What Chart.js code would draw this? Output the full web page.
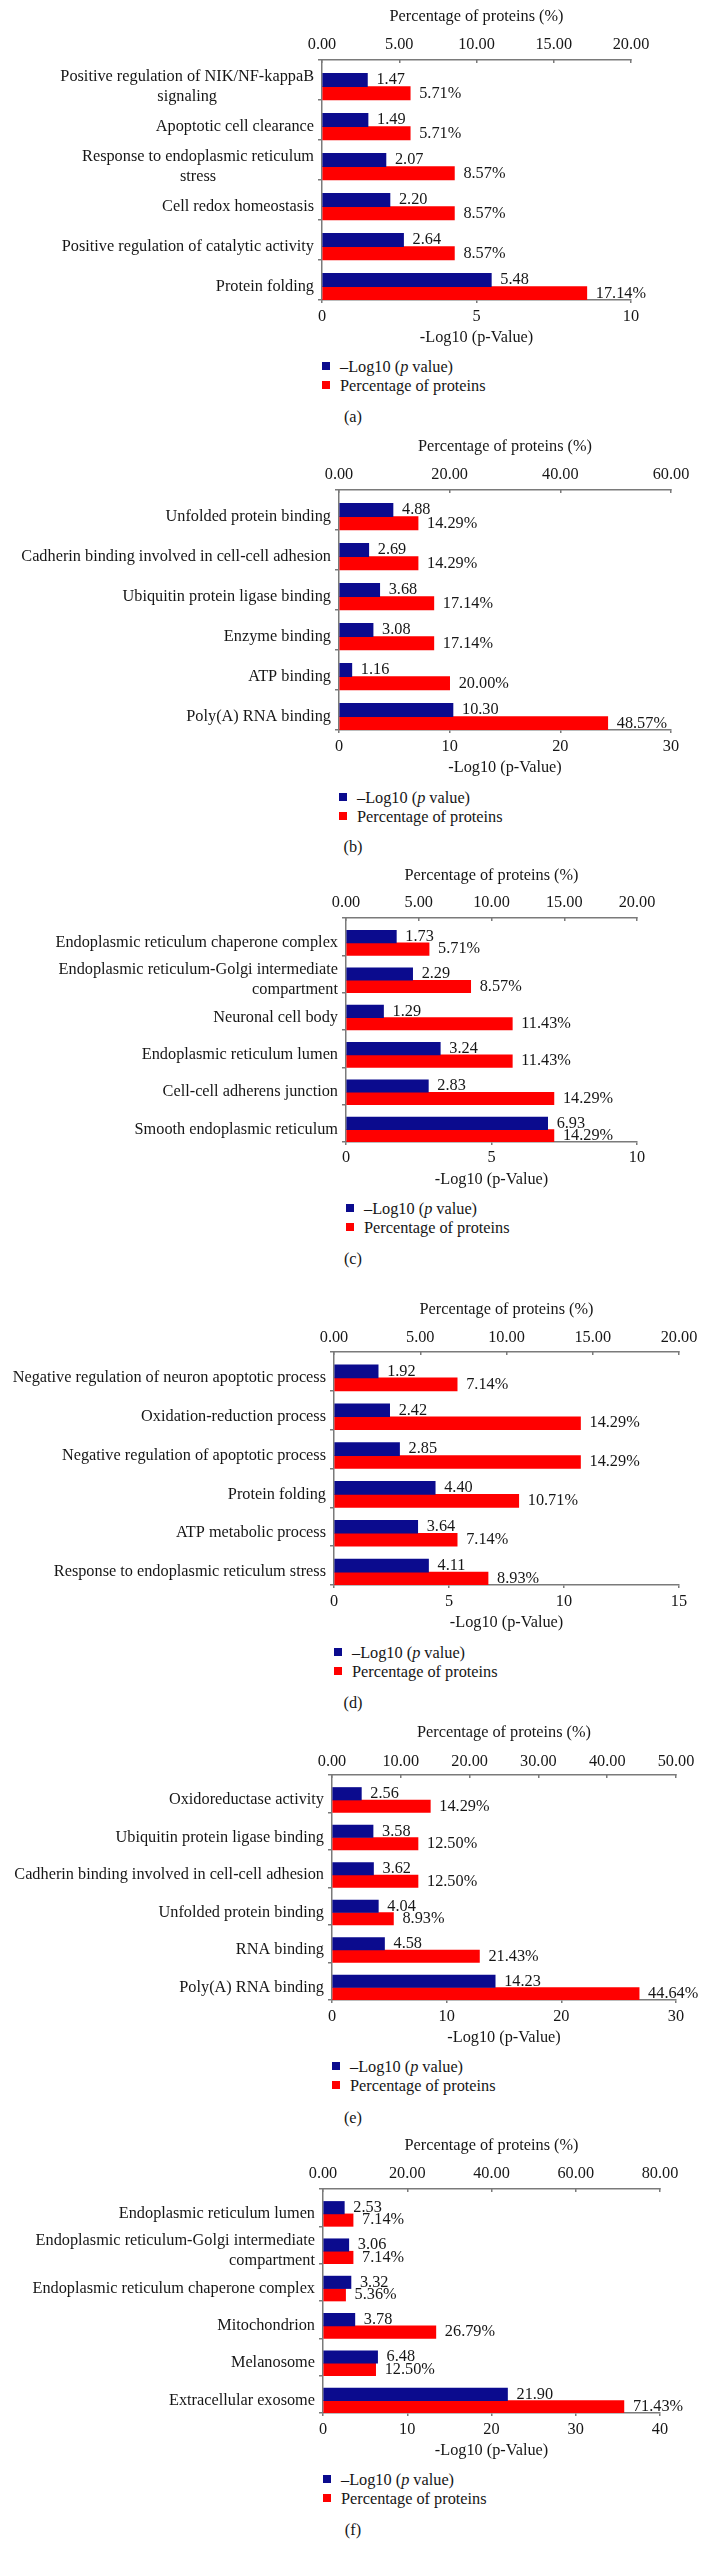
<!DOCTYPE html>
<html>
<head>
<meta charset="utf-8">
<title>GO enrichment panels</title>
<script src="https://cdn.jsdelivr.net/npm/chart.js@4.4.1/dist/chart.umd.min.js"></script>
<style>
    html, body { margin: 0; padding: 0; background: #fff; }
    body {
        position: relative;
        width: 706px;
        height: 2563px;
        overflow: hidden;
        font-family: "Liberation Serif", "Times New Roman", serif;
        color: #161616;
    }
    canvas { position: absolute; left: 0; }
    .legend { position: absolute; font-size: 16.3px; line-height: 19px; }
    .legend div { position: relative; padding-left: 18px; white-space: nowrap; }
    .legend .sw { position: absolute; left: 0; top: 5.5px; width: 8px; height: 8px; }
    .caption { position: absolute; left: 0; width: 706px; text-align: center; font-size: 16.3px; line-height: 20px; }
</style>
</head>
<body>
<script>
// ── Data ──
const seriesNames = ["\u2013Log10 (p value)", "Percentage of proteins"];

// (a)
const termsA = [
    ["Positive regulation of NIK/NF-kappaB", "signaling"],
    "Apoptotic cell clearance",
    ["Response to endoplasmic reticulum", "stress"],
    "Cell redox homeostasis",
    "Positive regulation of catalytic activity",
    "Protein folding"
];
const logPA = [1.47, 1.49, 2.07, 2.20, 2.64, 5.48];
const pctA = [5.71, 5.71, 8.57, 8.57, 8.57, 17.14];
const logTicksA = [0, 5, 10];
const pctTicksA = [0, 5, 10, 15, 20];

// (b)
const termsB = [
    "Unfolded protein binding",
    "Cadherin binding involved in cell-cell adhesion",
    "Ubiquitin protein ligase binding",
    "Enzyme binding",
    "ATP binding",
    "Poly(A) RNA binding"
];
const logPB = [4.88, 2.69, 3.68, 3.08, 1.16, 10.30];
const pctB = [14.29, 14.29, 17.14, 17.14, 20.00, 48.57];
const logTicksB = [0, 10, 20, 30];
const pctTicksB = [0, 20, 40, 60];

// (c)
const termsC = [
    "Endoplasmic reticulum chaperone complex",
    ["Endoplasmic reticulum-Golgi intermediate", "compartment"],
    "Neuronal cell body",
    "Endoplasmic reticulum lumen",
    "Cell-cell adherens junction",
    "Smooth endoplasmic reticulum"
];
const logPC = [1.73, 2.29, 1.29, 3.24, 2.83, 6.93];
const pctC = [5.71, 8.57, 11.43, 11.43, 14.29, 14.29];
const logTicksC = [0, 5, 10];
const pctTicksC = [0, 5, 10, 15, 20];

// (d)
const termsD = [
    "Negative regulation of neuron apoptotic process",
    "Oxidation-reduction process",
    "Negative regulation of apoptotic process",
    "Protein folding",
    "ATP metabolic process",
    "Response to endoplasmic reticulum stress"
];
const logPD = [1.92, 2.42, 2.85, 4.40, 3.64, 4.11];
const pctD = [7.14, 14.29, 14.29, 10.71, 7.14, 8.93];
const logTicksD = [0, 5, 10, 15];
const pctTicksD = [0, 5, 10, 15, 20];

// (e)
const termsE = [
    "Oxidoreductase activity",
    "Ubiquitin protein ligase binding",
    "Cadherin binding involved in cell-cell adhesion",
    "Unfolded protein binding",
    "RNA binding",
    "Poly(A) RNA binding"
];
const logPE = [2.56, 3.58, 3.62, 4.04, 4.58, 14.23];
const pctE = [14.29, 12.50, 12.50, 8.93, 21.43, 44.64];
const logTicksE = [0, 10, 20, 30];
const pctTicksE = [0, 10, 20, 30, 40, 50];

// (f)
const termsF = [
    "Endoplasmic reticulum lumen",
    ["Endoplasmic reticulum-Golgi intermediate", "compartment"],
    "Endoplasmic reticulum chaperone complex",
    "Mitochondrion",
    "Melanosome",
    "Extracellular exosome"
];
const logPF = [2.53, 3.06, 3.32, 3.78, 6.48, 21.90];
const pctF = [7.14, 7.14, 5.36, 26.79, 12.50, 71.43];
const logTicksF = [0, 10, 20, 30, 40];
const pctTicksF = [0, 20, 40, 60, 80];

// ── Look ──
const FONT = '"Liberation Serif", "Times New Roman", serif';
const BLUE = "#0b0b8e";
const RED = "#ff0000";
const AXIS = "#7a7a7a";
const INK = "#161616";
const FS = 16.3;
const LH = FS * 1.2;

// page positions of each panel (px)
const panels = [
    { key: "a", terms: termsA, logP: logPA, pct: pctA, logTicks: logTicksA, pctTicks: pctTicksA, wrap: "center",
      box: { titleY: 17, topTickY: 45, topAxisY: 60, botAxisY: 300, botTickY: 317, botTitleY: 338, left: 322, right: 631, legendY: 366, captionY: 417 } },
    { key: "b", terms: termsB, logP: logPB, pct: pctB, logTicks: logTicksB, pctTicks: pctTicksB, wrap: "center",
      box: { titleY: 447, topTickY: 475, topAxisY: 490, botAxisY: 730, botTickY: 747, botTitleY: 768, left: 339, right: 671, legendY: 797, captionY: 847 } },
    { key: "c", terms: termsC, logP: logPC, pct: pctC, logTicks: logTicksC, pctTicks: pctTicksC, wrap: "right",
      box: { titleY: 876, topTickY: 903, topAxisY: 918, botAxisY: 1142, botTickY: 1158, botTitleY: 1180, left: 346, right: 637, legendY: 1208, captionY: 1259 } },
    { key: "d", terms: termsD, logP: logPD, pct: pctD, logTicks: logTicksD, pctTicks: pctTicksD, wrap: "right",
      box: { titleY: 1310, topTickY: 1338, topAxisY: 1352, botAxisY: 1585, botTickY: 1602, botTitleY: 1623, left: 334, right: 679, legendY: 1652, captionY: 1703 } },
    { key: "e", terms: termsE, logP: logPE, pct: pctE, logTicks: logTicksE, pctTicks: pctTicksE, wrap: "right",
      box: { titleY: 1733, topTickY: 1762, topAxisY: 1775, botAxisY: 2000, botTickY: 2017, botTitleY: 2038, left: 332, right: 676, legendY: 2066, captionY: 2118 } },
    { key: "f", terms: termsF, logP: logPF, pct: pctF, logTicks: logTicksF, pctTicks: pctTicksF, wrap: "right",
      box: { titleY: 2146, topTickY: 2174, topAxisY: 2189, botAxisY: 2413, botTickY: 2430, botTitleY: 2451, left: 323, right: 660, legendY: 2479, captionY: 2530 } }
];

// ── Value labels + wrapped category labels ──
const barText = {
    id: "barText",
    afterDatasetsDraw(chart, args, opts) {
        const ctx = chart.ctx;
        ctx.save();
        ctx.font = FS + "px " + FONT;
        ctx.fillStyle = INK;
        ctx.textBaseline = "middle";

        // numbers at bar ends
        ctx.textAlign = "left";
        [1, 2].forEach(function (di) {
            const meta = chart.getDatasetMeta(di);
            const vals = chart.data.datasets[di].data;
            meta.data.forEach(function (bar, i) {
                const txt = vals[i].toFixed(2) + (di === 2 ? "%" : "");
                ctx.fillText(txt, bar.x + 9, bar.y);
            });
        });

        // category names, centred on the pair of bars
        const ys = chart.scales.y;
        const shift = (ys.getPixelForTick(1) - ys.getPixelForTick(0)) / 6;
        const right = chart.chartArea.left - 8;
        chart.data.labels.forEach(function (lab, i) {
            const lines = Array.isArray(lab) ? lab : [lab];
            const y0 = ys.getPixelForTick(i) + shift - (lines.length - 1) * 20 / 2;
            const w = Math.max.apply(null, lines.map(function (l) { return ctx.measureText(l).width; }));
            lines.forEach(function (l, k) {
                if (opts.wrap === "center") {
                    ctx.textAlign = "center";
                    ctx.fillText(l, right - w / 2, y0 + k * 20);
                } else {
                    ctx.textAlign = "right";
                    ctx.fillText(l, right, y0 + k * 20);
                }
            });
        });
        ctx.restore();
    }
};

function axisFont() { return { family: FONT, size: FS, lineHeight: 1.2 }; }

function buildPanel(p) {
    const b = p.box;
    const cTop = b.titleY - 18;
    const H = b.botTitleY + 14 - cTop;
    const loc = function (y) { return y - cTop; };

    const cv = document.createElement("canvas");
    cv.width = 706;
    cv.height = H;
    cv.style.top = cTop + "px";
    document.body.appendChild(cv);

    const lt = p.logTicks, pt = p.pctTicks;

    new Chart(cv, {
        type: "bar",
        data: {
            labels: p.terms,
            datasets: [
                // empty slot so the bar pair sits low in each band, as in the original
                { label: "", data: p.terms.map(function () { return null; }), xAxisID: "x", backgroundColor: "rgba(0,0,0,0)" },
                { label: seriesNames[0], data: p.logP, xAxisID: "x", backgroundColor: BLUE },
                { label: seriesNames[1], data: p.pct, xAxisID: "x2", backgroundColor: RED }
            ]
        },
        options: {
            indexAxis: "y",
            responsive: false,
            animation: false,
            devicePixelRatio: 1,
            layout: { padding: { left: 0, right: 706 - b.right, top: 0, bottom: 0 } },
            datasets: { bar: { barPercentage: 1, categoryPercentage: 1, borderWidth: 0 } },
            scales: {
                y: {
                    type: "category",
                    offset: true,
                    afterFit: function (s) { s.width = b.left; },
                    ticks: { display: false },
                    grid: { offset: true, drawOnChartArea: false, tickLength: 4, color: AXIS, lineWidth: 1.5 },
                    border: { color: AXIS, width: 1.5 }
                },
                x: {
                    type: "linear",
                    position: "bottom",
                    min: lt[0],
                    max: lt[lt.length - 1],
                    afterFit: function (s) { s.height = H - loc(b.botAxisY); },
                    ticks: {
                        stepSize: lt[1] - lt[0],
                        autoSkip: false,
                        maxRotation: 0,
                        color: INK,
                        font: axisFont(),
                        padding: (b.botTickY - b.botAxisY) - LH / 2 - 3,
                        callback: function (v) { return String(v); }
                    },
                    grid: { drawOnChartArea: false, tickLength: 3, color: AXIS, lineWidth: 1.5 },
                    border: { color: AXIS, width: 1.5 },
                    title: {
                        display: true,
                        text: "-Log10 (p-Value)",
                        color: INK,
                        font: axisFont(),
                        padding: { top: 0, bottom: H - loc(b.botTitleY) - LH / 2 }
                    }
                },
                x2: {
                    type: "linear",
                    position: "top",
                    min: pt[0],
                    max: pt[pt.length - 1],
                    afterFit: function (s) { s.height = loc(b.topAxisY); },
                    ticks: {
                        stepSize: pt[1] - pt[0],
                        autoSkip: false,
                        maxRotation: 0,
                        color: INK,
                        font: axisFont(),
                        padding: (b.topAxisY - b.topTickY) - LH / 2 + 3,
                        callback: function (v) { return v.toFixed(2); }
                    },
                    grid: { drawOnChartArea: false, tickLength: -3, color: AXIS, lineWidth: 1.5 },
                    border: { color: AXIS, width: 1.5 },
                    title: {
                        display: true,
                        text: "Percentage of proteins (%)",
                        color: INK,
                        font: axisFont(),
                        padding: { top: loc(b.titleY) - LH / 2, bottom: 0 }
                    }
                }
            },
            plugins: {
                legend: { display: false },
                tooltip: { enabled: false },
                barText: { wrap: p.wrap }
            }
        },
        plugins: [barText]
    });

    // legend (html so the p can be italic)
    var lg = document.createElement("div");
    lg.className = "legend";
    lg.style.left = b.left + "px";
    lg.style.top = (b.legendY - 9.5) + "px";
    lg.innerHTML =
        '<div><span class="sw" style="background:' + BLUE + '"></span>' + seriesNames[0].replace("(p ", "(<i>p</i> ") + '</div>' +
        '<div><span class="sw" style="background:' + RED + '"></span>' + seriesNames[1] + '</div>';
    document.body.appendChild(lg);

    var cap = document.createElement("div");
    cap.className = "caption";
    cap.style.top = (b.captionY - 10) + "px";
    cap.textContent = "(" + p.key + ")";
    document.body.appendChild(cap);
}

panels.forEach(buildPanel);
</script>
</body>
</html>
